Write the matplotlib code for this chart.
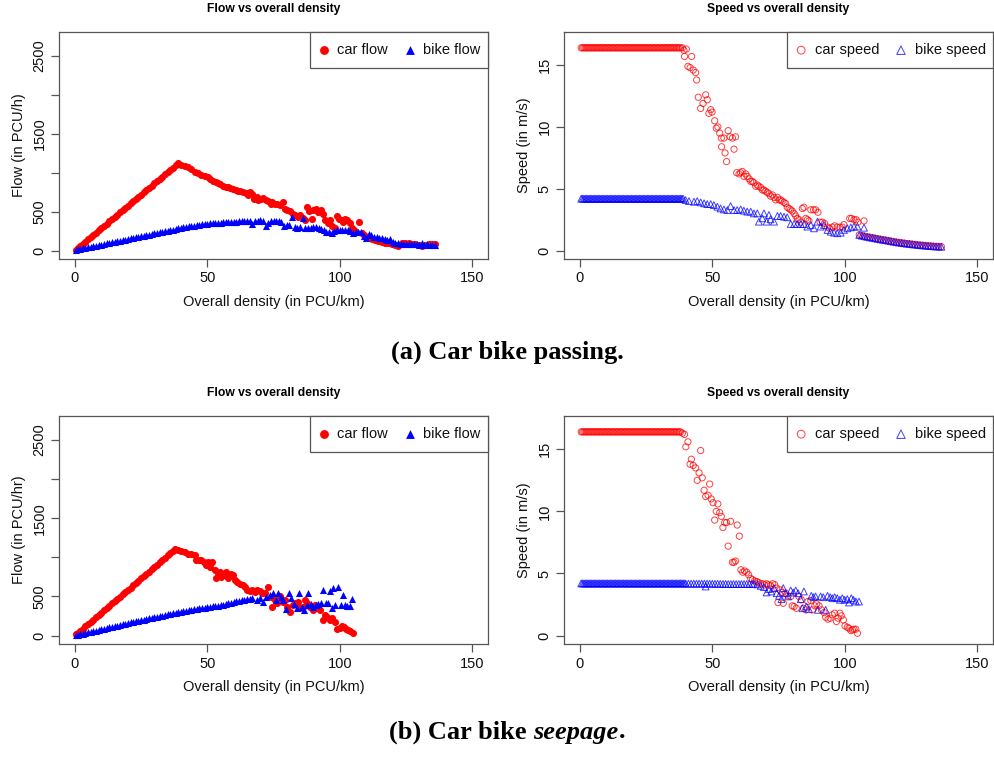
import matplotlib
matplotlib.use("Agg")
import matplotlib.pyplot as plt
from matplotlib.patches import Rectangle

plt.rcParams['font.family'] = ['Liberation Sans', 'DejaVu Sans']

# ---------------- (a) Car bike passing ----------------
car_flow_a_x = [0.5, 1, 2, 3, 4, 5, 6, 7, 8, 9, 10, 11, 12, 13, 14, 15, 16, 17, 18, 19, 20,
                21, 22, 23, 24, 25, 26, 27, 28, 29, 30, 31, 32, 33, 34, 35, 36, 37, 38, 39,
                40.2, 41.4, 42.7, 43.9, 45.2, 46.5, 47.7, 49.0, 50.3, 51.1, 52.1, 53.2, 54.0,
                54.9, 55.9, 56.9, 57.8, 58.7, 59.7, 60.7, 61.6, 62.5, 63.5, 64.5, 65.4, 66.0,
                66.7, 67.6, 68.6, 69.2, 70.1, 71.1, 72.0, 73.0, 73.9, 74.6, 75.5, 76.4, 77.4,
                78.4, 79.3, 80.2, 81.2, 82.2, 83.1, 84.1, 85.0, 86.0, 86.9, 87.8, 88.5, 89.4,
                90.0, 90.9, 91.9, 92.8, 93.8, 94.4, 95.7, 96.3, 97.2, 98.2, 98.9, 99.9, 100.8,
                101.4, 102.0, 102.9, 103.7, 104.5, 105.4, 106.2, 107.4, 108.3, 109.2, 110.2,
                111.2, 112.1, 113.4, 114.6, 115.9, 117.2, 118.4, 119.7, 121.0, 122.2, 123.5,
                124.7, 126.0, 127.3, 128.5, 129.8, 131.1, 132.3, 133.6, 134.8, 136.1]
car_flow_a_y = [14, 29, 58, 86, 115, 144, 173, 202, 230, 259, 288, 317, 346, 374, 403, 432, 461,
                490, 518, 547, 576, 605, 634, 662, 691, 720, 749, 778, 806, 835, 864, 893, 922,
                950, 979, 1008, 1037, 1066, 1094, 1123,
                1102, 1089, 1068, 1047, 1004, 991, 975, 962, 941, 919, 898, 877, 864, 856, 835,
                822, 814, 805, 792, 780, 771, 763, 750, 737, 720, 750, 729, 665, 686, 652, 665,
                678, 644, 631, 602, 623, 593, 602, 580, 623, 538, 525, 508, 475, 453, 432, 453,
                424, 390, 559, 508, 411, 525, 538, 496, 517, 475, 390, 356, 390, 314, 284, 441,
                411, 390, 369, 411, 390, 356, 284, 263, 242, 369, 229, 199, 169, 157, 144, 136,
                127, 114, 102, 93, 85, 72, 59, 93, 102, 93, 85, 85, 72, 59, 72, 80, 85, 80]

bike_flow_a_x = [0.5, 1, 2, 3, 4, 5, 6, 7, 8, 9, 10, 11, 12, 13, 14, 15, 16, 17, 18, 19, 20,
                 21, 22, 23, 24, 25, 26, 27, 28, 29, 30, 31, 32, 33, 34, 35, 36, 37, 38, 39,
                 40, 41, 42, 43, 44, 45, 46, 47, 48, 49, 50, 51, 52, 53, 54, 55, 56, 57, 58,
                 59, 60, 61, 62, 63, 64, 65, 66, 67, 68, 69, 70, 71, 72, 73, 74, 75, 76, 77,
                 78, 79, 80, 81, 82, 83, 84, 85, 86, 87, 88, 89, 90, 91, 92, 93, 94, 95, 96,
                 97, 98, 99, 100, 101, 102, 103, 104, 105, 106, 107, 108, 109, 110, 111, 112,
                 113, 114, 115, 116, 117, 118, 119, 120, 121, 122, 123, 124, 125, 126, 127,
                 128, 129, 130, 131, 132, 133, 134, 135, 136]
bike_flow_a_y = [10, 15, 22, 28, 36, 43, 50, 57, 64, 71, 78, 85, 92, 100, 107, 114, 121, 128,
                 135, 142, 150, 157, 164, 171, 178, 185, 192, 199, 206, 213, 220, 227, 234, 241,
                 248, 255, 262, 270, 278, 285, 292, 298, 305, 310, 316, 322, 328, 333, 338, 342,
                 346, 350, 352, 355, 357, 359, 361, 363, 365, 368, 370, 372, 374, 376, 378, 380,
                 382, 340, 384, 386, 388, 385, 316, 350, 380, 378, 376, 385, 372, 316, 335, 330,
                 435, 300, 290, 300, 414, 295, 290, 285, 300, 305, 290, 275, 262, 245, 235, 220,
                 250, 262, 268, 270, 265, 262, 255, 225, 245, 240, 238, 190, 165, 215, 195, 175,
                 170, 168, 160, 150, 135, 155, 110, 100, 95, 90, 88, 85, 82, 80, 82, 80, 78, 100,
                 78, 80, 76, 78, 72]

car_speed_a_x = [0.5, 1, 1.5, 2, 2.5, 3, 3.5, 4, 4.5, 5, 5.5, 6, 6.5, 7, 7.5, 8, 8.5, 9, 9.5,
                 10, 10.5, 11, 11.5, 12, 12.5, 13, 13.5, 14, 14.5, 15, 15.5, 16, 16.5, 17, 17.5,
                 18, 18.5, 19, 19.5, 20, 20.5, 21, 21.5, 22, 22.5, 23, 23.5, 24, 24.5, 25, 25.5,
                 26, 26.5, 27, 27.5, 28, 28.5, 29, 29.5, 30, 30.5, 31, 31.5, 32, 32.5, 33, 33.5,
                 34, 34.5, 35, 35.5, 36, 36.5, 37, 37.5, 38,
                 38.7, 39.3, 40.2, 39.5, 42.2, 40.8, 41.6, 42.8, 43.7, 44.1, 44.7, 45.6, 46.5,
                 47.5, 48.1, 48.7, 49.4, 49.9, 50.9, 51.5, 52.1, 52.8, 53.4, 53.5, 54.4, 54.8,
                 55.4, 56.0, 56.7, 57.6, 58.2, 58.8, 59.2, 60.1, 60.7, 61.3, 62.0, 62.6, 63.2,
                 63.9, 64.5, 65.1, 65.7, 66.4, 67.0, 67.6, 68.3, 68.9, 69.5, 70.2, 70.8, 71.4,
                 72.0, 72.7, 73.3, 73.9, 74.6, 75.2, 75.8, 76.4, 77.1, 77.7, 78.3, 79.0, 79.6,
                 80.2, 80.9, 81.5, 82.1, 82.7, 83.4, 84.0, 84.6, 85.3, 85.9, 86.5, 87.2, 88.2,
                 89.0, 89.9, 90.7, 91.6, 92.4, 93.5, 94.3, 95.3, 96.2, 97.2, 98.2, 99.1, 99.7,
                 101.9, 102.6, 103.5, 104.3, 105.0, 107.3,
                 105.5, 106.5, 107.5, 108.5, 109.5, 110.5, 111.5, 112.5, 113.5, 114.5, 115.5,
                 116.5, 117.5, 118.5, 119.5, 120.5, 121.5, 122.5, 123.5, 124.5, 125.5, 126.5,
                 127.5, 128.5, 129.5, 130.5, 131.5, 132.5, 133.5, 134.5, 135.5, 136.5]
car_speed_a_y = [16.4, 16.4, 16.4, 16.4, 16.4, 16.4, 16.4, 16.4, 16.4, 16.4, 16.4, 16.4, 16.4,
                 16.4, 16.4, 16.4, 16.4, 16.4, 16.4, 16.4, 16.4, 16.4, 16.4, 16.4, 16.4, 16.4,
                 16.4, 16.4, 16.4, 16.4, 16.4, 16.4, 16.4, 16.4, 16.4, 16.4, 16.4, 16.4, 16.4,
                 16.4, 16.4, 16.4, 16.4, 16.4, 16.4, 16.4, 16.4, 16.4, 16.4, 16.4, 16.4, 16.4,
                 16.4, 16.4, 16.4, 16.4, 16.4, 16.4, 16.4, 16.4, 16.4, 16.4, 16.4, 16.4, 16.4,
                 16.4, 16.4, 16.4, 16.4, 16.4, 16.4, 16.4, 16.4, 16.4, 16.4, 16.4,
                 16.4, 16.2, 16.3, 15.7, 15.7, 14.9, 14.8, 14.6, 14.4, 13.8, 12.4, 11.5,
                 11.9, 12.6, 12.2, 11.1, 11.4, 11.2, 10.5, 9.9, 10.0, 9.5, 9.1, 8.4, 9.1, 7.9,
                 7.2, 9.7, 9.2, 9.1, 8.2, 9.2, 6.3, 6.2, 6.3, 6.4, 6.0, 6.2, 6.0, 5.8, 5.6, 5.6,
                 5.5, 5.2, 5.3, 5.2, 5.1, 4.9, 4.9, 4.8, 4.7, 4.6, 4.4, 4.5, 4.3, 4.1, 4.3, 4.1,
                 4.1, 4.0, 3.9, 3.8, 3.5, 3.4, 3.3, 3.2, 3.0, 2.8, 2.6, 2.5, 2.3, 3.4, 3.5, 2.6,
                 2.5, 2.4, 3.3, 3.3, 3.3, 3.1, 2.3, 2.3, 2.2, 1.9, 1.8, 1.9, 2.0, 1.9, 1.9, 1.9,
                 2.1, 2.6, 2.6, 2.5, 2.5, 2.3, 2.4,
                 1.28, 1.22, 1.17, 1.12, 1.08, 1.04, 1.0, 0.96, 0.92, 0.88, 0.85, 0.81, 0.77,
                 0.73, 0.69, 0.66, 0.63, 0.6, 0.57, 0.55, 0.52, 0.5, 0.47, 0.45, 0.43, 0.41,
                 0.39, 0.37, 0.35, 0.34, 0.33, 0.32]

bike_speed_a_x = [0.5, 1, 1.5, 2, 2.5, 3, 3.5, 4, 4.5, 5, 5.5, 6, 6.5, 7, 7.5, 8, 8.5, 9, 9.5,
                  10, 10.5, 11, 11.5, 12, 12.5, 13, 13.5, 14, 14.5, 15, 15.5, 16, 16.5, 17, 17.5,
                  18, 18.5, 19, 19.5, 20, 20.5, 21, 21.5, 22, 22.5, 23, 23.5, 24, 24.5, 25, 25.5,
                  26, 26.5, 27, 27.5, 28, 28.5, 29, 29.5, 30, 30.5, 31, 31.5, 32, 32.5, 33, 33.5,
                  34, 34.5, 35, 35.5, 36, 36.5, 37, 37.5, 38, 38.5, 39,
                  39.9, 41.2, 43.1, 44.3, 45.6, 46.9, 48.1, 49.4, 50.6, 51.9, 53.1, 54.4, 55.7,
                  56.9, 58.2, 59.4, 60.7, 61.9, 63.2, 64.5, 65.7, 67.0, 67.6, 68.9, 69.5, 70.5,
                  71.4, 72.0, 73.3, 74.6, 75.8, 77.1, 78.3, 79.6, 80.9, 82.1, 83.4, 84.6, 85.9,
                  87.2, 88.4, 89.7, 90.9, 92.2, 93.5, 94.7, 96.0, 97.2, 98.5, 99.7, 101.0, 102.3,
                  103.5, 104.8, 107.3,
                  105.5, 106.5, 107.5, 108.5, 109.5, 110.5, 111.5, 112.5, 113.5, 114.5, 115.5,
                  116.5, 117.5, 118.5, 119.5, 120.5, 121.5, 122.5, 123.5, 124.5, 125.5, 126.5,
                  127.5, 128.5, 129.5, 130.5, 131.5, 132.5, 133.5, 134.5, 135.5, 136.5]
bike_speed_a_y = [4.2, 4.2, 4.2, 4.2, 4.2, 4.2, 4.2, 4.2, 4.2, 4.2, 4.2, 4.2, 4.2, 4.2, 4.2,
                  4.2, 4.2, 4.2, 4.2, 4.2, 4.2, 4.2, 4.2, 4.2, 4.2, 4.2, 4.2, 4.2, 4.2, 4.2, 4.2,
                  4.2, 4.2, 4.2, 4.2, 4.2, 4.2, 4.2, 4.2, 4.2, 4.2, 4.2, 4.2, 4.2, 4.2, 4.2, 4.2,
                  4.2, 4.2, 4.2, 4.2, 4.2, 4.2, 4.2, 4.2, 4.2, 4.2, 4.2, 4.2, 4.2, 4.2, 4.2, 4.2,
                  4.2, 4.2, 4.2, 4.2, 4.2, 4.2, 4.2, 4.2, 4.2, 4.2, 4.2, 4.2, 4.2, 4.2, 4.2,
                  4.09, 4.0, 3.95, 4.0, 3.9, 3.82, 3.76, 3.76, 3.68, 3.55, 3.41, 3.33, 3.28, 3.6,
                  3.28, 3.28, 3.33, 3.23, 3.15, 3.15, 3.01, 3.01, 2.34, 2.61, 3.01, 2.34, 2.88,
                  2.53, 2.34, 2.8, 2.8, 2.74, 2.69, 2.15, 2.15, 2.15, 2.15, 2.15, 1.94, 2.07, 1.8,
                  2.34, 1.94, 2.07, 1.67, 1.53, 1.45, 1.4, 1.45, 1.67, 1.8, 1.88, 1.94, 1.94, 1.85,
                  1.26, 1.2, 1.16, 1.11, 1.07, 1.03, 0.99, 0.95, 0.91, 0.87, 0.84, 0.8, 0.76,
                  0.72, 0.68, 0.65, 0.62, 0.59, 0.56, 0.54, 0.51, 0.49, 0.46, 0.44, 0.42, 0.4,
                  0.38, 0.36, 0.35, 0.33, 0.32, 0.31]

# ---------------- (b) Car bike seepage ----------------
car_flow_b_x = [0.5, 1, 2, 3, 4, 5, 6, 7, 8, 9, 10, 11, 12, 13, 14, 15, 16, 17, 18, 19, 20,
                21, 22, 23, 24, 25, 26, 27, 28, 29, 30, 31, 32, 33, 34, 35, 36, 37, 37.9,
                38.9, 40.2, 41.4, 42.7, 43.9, 45.2, 45.8, 46.8, 47.7, 48.6, 49.6, 50.3, 51.1,
                51.8, 52.8, 53.4, 54.0, 54.7, 55.3, 55.9, 56.6, 57.2, 57.8, 58.5, 59.1, 59.7,
                60.4, 61.2, 62.2, 63.3, 64.1, 65.0, 66.0, 67.0, 67.9, 68.8, 69.8, 70.8, 71.7,
                73.0, 73.9, 74.6, 75.5, 76.4, 77.4, 78.4, 79.3, 80.2, 81.2, 82.2, 83.1, 84.1,
                85.0, 86.0, 86.9, 87.8, 88.8, 89.8, 90.7, 91.5, 92.6, 93.6, 94.4, 95.3, 96.3,
                97.2, 98.2, 99.1, 100.1, 100.8, 101.6, 102.4, 103.3, 103.9, 104.9]
car_flow_b_y = [15, 29, 59, 88, 117, 146, 176, 205, 234, 263, 293, 322, 351, 380, 410, 439,
                468, 497, 527, 556, 585, 614, 644, 673, 702, 731, 761, 790, 819, 848, 878, 907,
                936, 965, 995, 1024, 1053, 1082, 1110,
                1089, 1080, 1068, 1047, 1038, 1025, 962, 970, 962, 941, 898, 941, 877, 941, 835,
                741, 801, 814, 750, 792, 771, 814, 741, 758, 792, 771, 716, 686, 665, 644, 623,
                589, 572, 580, 559, 580, 572, 547, 538, 623, 496, 369, 453, 411, 504, 432, 453,
                369, 305, 390, 419, 432, 347, 369, 453, 411, 369, 326, 390, 347, 326, 199, 263,
                242, 199, 220, 178, 80, 93, 123, 114, 80, 72, 64, 38]

bike_flow_b_x = [0.5, 1, 2, 3, 4, 5, 6, 7, 8, 9, 10, 11, 12, 13, 14, 15, 16, 17, 18, 19, 20,
                 21, 22, 23, 24, 25, 26, 27, 28, 29, 30, 31, 32, 33, 34, 35, 36, 37, 38, 39,
                 40, 41, 42, 43, 44, 45, 46, 47, 48, 49, 50, 51, 52, 53, 54, 55, 56, 57, 58,
                 59, 60, 61, 62, 63, 64, 65, 66, 67,
                 68.6, 69.8, 71.1, 72.3, 73.6, 74.9, 75.9, 76.8, 77.7, 78.7, 79.7, 80.7, 81.6,
                 82.7, 83.7, 84.7, 85.6, 86.5, 87.5, 88.1, 89.0, 90.0, 91.0, 91.9, 92.8, 93.8,
                 94.8, 95.7, 96.3, 97.2, 97.6, 98.2, 99.5, 100.4, 101.4, 102.0, 102.9, 103.7,
                 104.5]
bike_flow_b_y = [6, 10, 18, 25, 33, 40, 48, 55, 63, 72, 80, 88, 96, 104, 112, 120, 128, 136,
                 145, 152, 160, 168, 176, 184, 192, 198, 205, 212, 220, 228, 235, 242, 250, 256,
                 263, 270, 276, 283, 290, 297, 305, 312, 318, 325, 330, 336, 342, 348, 352, 357,
                 362, 367, 372, 378, 383, 389, 395, 402, 410, 420, 430, 438, 445, 452, 458, 465,
                 470, 475,
                 453, 475, 432, 496, 517, 538, 453, 538, 487, 453, 335, 538, 475, 403, 347, 538,
                 369, 326, 390, 538, 403, 369, 390, 403, 419, 580, 419, 419, 572, 347, 602, 390,
                 623, 390, 517, 390, 377, 377, 462]

car_speed_b_x = [0.5, 1, 1.5, 2, 2.5, 3, 3.5, 4, 4.5, 5, 5.5, 6, 6.5, 7, 7.5, 8, 8.5, 9, 9.5,
                 10, 10.5, 11, 11.5, 12, 12.5, 13, 13.5, 14, 14.5, 15, 15.5, 16, 16.5, 17, 17.5,
                 18, 18.5, 19, 19.5, 20, 20.5, 21, 21.5, 22, 22.5, 23, 23.5, 24, 24.5, 25, 25.5,
                 26, 26.5, 27, 27.5, 28, 28.5, 29, 29.5, 30, 30.5, 31, 31.5, 32, 32.5, 33, 33.5,
                 34, 34.5, 35, 35.5, 36, 36.5, 37, 37.5, 38,
                 38.7, 39.5, 40.0, 40.8, 41.6, 42.1, 42.8, 43.7, 44.3, 45.0, 45.6, 46.2, 46.9,
                 47.5, 48.4, 49.0, 49.6, 50.3, 50.9, 51.5, 52.1, 52.8, 53.4, 54.0, 54.7, 55.4,
                 56.0, 56.9, 57.6, 58.2, 58.8, 59.4, 60.2, 60.8, 61.5, 62.2, 63.0, 63.7, 64.5,
                 65.2, 66.0, 66.8, 67.5, 68.3, 69.0, 69.8, 70.5, 71.3, 72.0, 72.8, 73.6, 74.3,
                 74.8, 75.6, 76.4, 76.8, 77.7, 78.6, 79.6, 80.2, 80.9, 81.7, 82.7, 83.6, 84.4,
                 85.3, 86.1, 87.2, 87.8, 88.7, 89.4, 90.3, 91.2, 92.2, 92.8, 93.7, 94.5, 95.3,
                 96.2, 96.9, 97.5, 98.2, 98.7, 99.5, 100.1, 101.0, 101.6, 102.3, 102.9, 103.5,
                 104.2, 104.8]
car_speed_b_y = [16.4, 16.4, 16.4, 16.4, 16.4, 16.4, 16.4, 16.4, 16.4, 16.4, 16.4, 16.4, 16.4,
                 16.4, 16.4, 16.4, 16.4, 16.4, 16.4, 16.4, 16.4, 16.4, 16.4, 16.4, 16.4, 16.4,
                 16.4, 16.4, 16.4, 16.4, 16.4, 16.4, 16.4, 16.4, 16.4, 16.4, 16.4, 16.4, 16.4,
                 16.4, 16.4, 16.4, 16.4, 16.4, 16.4, 16.4, 16.4, 16.4, 16.4, 16.4, 16.4, 16.4,
                 16.4, 16.4, 16.4, 16.4, 16.4, 16.4, 16.4, 16.4, 16.4, 16.4, 16.4, 16.4, 16.4,
                 16.4, 16.4, 16.4, 16.4, 16.4, 16.4, 16.4, 16.4, 16.4, 16.4, 16.4,
                 16.3, 16.2, 15.2, 15.6, 13.8, 14.2, 13.7, 13.5, 12.5, 13.1, 14.9, 12.7, 11.7,
                 11.2, 11.3, 12.2, 11.0, 10.7, 9.3, 10.0, 10.6, 9.9, 9.6, 8.7, 9.1, 9.1, 7.2,
                 9.2, 5.9, 5.9, 6.0, 8.9, 8.0, 5.3, 5.1, 5.2, 5.1, 4.9, 4.6, 4.5, 4.4, 4.35,
                 4.27, 4.17, 4.17, 4.09, 4.17, 4.09, 4.0, 4.17, 4.09, 3.82, 2.66, 3.68, 3.47,
                 2.6, 3.41, 3.2, 3.15, 2.39, 2.34, 2.2, 3.15, 2.88, 2.2, 2.07, 2.74, 2.82, 2.07,
                 2.39, 2.55, 2.39, 2.07, 1.85, 1.48, 1.32, 1.4, 1.67, 1.8, 1.13, 1.4, 1.8, 1.59,
                 1.26, 0.78, 0.67, 0.59, 0.4, 0.46, 0.51, 0.51, 0.19]

bike_speed_b_x = [0.5, 1, 1.5, 2, 2.5, 3, 3.5, 4, 4.5, 5, 5.5, 6, 6.5, 7, 7.5, 8, 8.5, 9, 9.5,
                  10, 10.5, 11, 11.5, 12, 12.5, 13, 13.5, 14, 14.5, 15, 15.5, 16, 16.5, 17, 17.5,
                  18, 18.5, 19, 19.5, 20, 20.5, 21, 21.5, 22, 22.5, 23, 23.5, 24, 24.5, 25, 25.5,
                  26, 26.5, 27, 27.5, 28, 28.5, 29, 29.5, 30, 30.5, 31, 31.5, 32, 32.5, 33, 33.5,
                  34, 34.5, 35, 35.5, 36, 36.5, 37, 37.5, 38, 38.5, 39, 39.5,
                  40, 41, 42, 43, 44, 45, 46, 47, 47.5, 48, 49, 50, 51, 52, 53, 54, 55, 56, 57,
                  58, 59, 60, 61, 62, 63, 64, 65,
                  65.7, 67.0, 68.3, 69.5, 70.5, 71.4, 72.3, 73.3, 74.3, 75.2, 76.1, 76.8, 77.7,
                  78.6, 79.6, 80.6, 81.5, 82.4, 83.4, 84.0, 84.6, 85.6, 86.5, 87.4, 88.2, 89.0,
                  89.9, 90.9, 91.9, 92.8, 93.5, 94.5, 95.3, 96.2, 97.2, 98.2, 99.1, 100.0, 101.0,
                  101.6, 102.5, 103.3, 104.2, 105.4]
bike_speed_b_y = [4.2, 4.2, 4.2, 4.2, 4.2, 4.2, 4.2, 4.2, 4.2, 4.2, 4.2, 4.2, 4.2, 4.2, 4.2,
                  4.2, 4.2, 4.2, 4.2, 4.2, 4.2, 4.2, 4.2, 4.2, 4.2, 4.2, 4.2, 4.2, 4.2, 4.2, 4.2,
                  4.2, 4.2, 4.2, 4.2, 4.2, 4.2, 4.2, 4.2, 4.2, 4.2, 4.2, 4.2, 4.2, 4.2, 4.2, 4.2,
                  4.2, 4.2, 4.2, 4.2, 4.2, 4.2, 4.2, 4.2, 4.2, 4.2, 4.2, 4.2, 4.2, 4.2, 4.2, 4.2,
                  4.2, 4.2, 4.2, 4.2, 4.2, 4.2, 4.2, 4.2, 4.2, 4.2, 4.2, 4.2, 4.2, 4.2, 4.2, 4.2,
                  4.18, 4.18, 4.18, 4.18, 4.18, 4.18, 4.18, 4.18, 3.95, 4.18, 4.18, 4.17, 4.17,
                  4.17, 4.16, 4.16, 4.16, 4.15, 4.15, 4.15, 4.15, 4.15, 4.15, 4.15, 4.15, 4.15,
                  4.15,
                  4.17, 4.12, 4.0, 3.9, 3.47, 3.74, 3.55, 3.82, 3.41, 3.2, 2.93, 3.82, 3.41, 3.15,
                  3.63, 3.47, 3.63, 3.41, 2.93, 2.2, 3.55, 2.34, 2.12, 3.2, 3.09, 3.15, 2.07,
                  3.15, 3.09, 2.07, 3.2, 3.09, 3.01, 3.09, 3.01, 2.88, 3.01, 2.88, 2.93, 2.66,
                  3.01, 2.88, 2.74, 2.74]

flow_ticks = [0, 500, 1000, 1500, 2000, 2500]
flow_ticklabels = ['0', '500', '', '1500', '', '2500']
speed_ticks = [0, 5, 10, 15]
x_ticks = [0, 50, 100, 150]

RED = '#FF0000'
BLUE = '#0000FF'
BOX = '#555555'
FS = 10.5

W, H = 994, 758
fig = plt.figure(figsize=(W / 100, H / 100), dpi=100)
legends = []


def ax_at(left, top, right, bottom):
    return fig.add_axes([left / W, 1 - bottom / H, (right - left) / W, (bottom - top) / H])


def style(ax, title, ylabel, yticks, yticklabels, ylim):
    ax.set_xlim(-6, 156)
    ax.set_ylim(ylim)
    ax.set_xticks(x_ticks)
    ax.set_xticklabels([str(t) for t in x_ticks])
    ax.set_yticks(yticks)
    ax.set_yticklabels(yticklabels, rotation=90, va='center')
    for s in ax.spines.values():
        s.set_color(BOX)
        s.set_linewidth(0.9)
    ax.tick_params(direction='out', length=6, width=0.9, color=BOX, labelsize=FS,
                   labelcolor='#111111', pad=3)
    ax.set_title(title, fontsize=8.7, fontweight='bold', pad=14.5)
    ax.set_xlabel('Overall density (in PCU/km)', fontsize=FS, color='#111111', labelpad=7)
    ax.set_ylabel(ylabel, fontsize=FS, color='#111111', labelpad=5)


def legend(ax):
    leg = ax.legend(loc='upper right', ncol=2, frameon=False, bbox_to_anchor=(1, 1),
                    borderaxespad=0, fontsize=FS, handletextpad=0.61, columnspacing=1.16,
                    borderpad=0.5, handlelength=0.65, markerscale=1.25)
    for t in leg.get_texts():
        t.set_color('#111111')
    legends.append((ax, leg))


def flow_panel(ax, cx, cy, bx, by, title, ylabel):
    ax.scatter(cx, cy, s=26, c=RED, marker='o', linewidths=0, label='car flow')
    ax.scatter(bx, by, s=26, c=BLUE, marker='^', linewidths=0, label='bike flow')
    style(ax, title, ylabel, flow_ticks, flow_ticklabels, (-108, 2808))
    legend(ax)


def speed_panel(ax, cx, cy, bx, by, title):
    ax.scatter(cx, cy, s=20, facecolors='none', edgecolors=RED, marker='o', linewidths=0.7,
               alpha=0.75, label='car speed')
    ax.scatter(bx, by, s=24, facecolors='none', edgecolors=BLUE, marker='^', linewidths=0.7,
               alpha=0.75, label='bike speed')
    style(ax, title, 'Speed (in m/s)', speed_ticks, [str(t) for t in speed_ticks],
          (-0.68, 17.68))
    legend(ax)


ax1 = ax_at(59, 32, 488, 259)
flow_panel(ax1, car_flow_a_x, car_flow_a_y, bike_flow_a_x, bike_flow_a_y,
           'Flow vs overall density', 'Flow (in PCU/h)')
ax2 = ax_at(564, 32, 993, 259)
speed_panel(ax2, car_speed_a_x, car_speed_a_y, bike_speed_a_x, bike_speed_a_y,
            'Speed vs overall density')
ax3 = ax_at(59, 416, 488, 644)
flow_panel(ax3, car_flow_b_x, car_flow_b_y, bike_flow_b_x, bike_flow_b_y,
           'Flow vs overall density', 'Flow (in PCU/hr)')
ax4 = ax_at(564, 416, 993, 644)
speed_panel(ax4, car_speed_b_x, car_speed_b_y, bike_speed_b_x, bike_speed_b_y,
            'Speed vs overall density')

CAP = 19
cap_font = ['Liberation Serif', 'DejaVu Serif']
fig.text(507 / W, 1 - 352 / H, '(a) Car bike passing.', ha='center', va='center',
         fontsize=CAP, fontweight='bold', family=cap_font)
t1 = fig.text(0, 0, '(b) Car bike ', fontsize=CAP, fontweight='bold', family=cap_font)
t2 = fig.text(0, 0, 'seepage', fontsize=CAP, fontweight='bold', style='italic',
              family=cap_font)
t3 = fig.text(0, 0, '.', fontsize=CAP, fontweight='bold', family=cap_font)
fig.canvas.draw()
r = fig.canvas.get_renderer()
w1 = t1.get_window_extent(r).width
w2 = t2.get_window_extent(r).width
w3 = t3.get_window_extent(r).width
total = w1 + w2 + w3
x0 = 507 - total / 2
yb = 1 - 732 / H
for t, off in ((t1, 0), (t2, w1), (t3, w1 + w2)):
    t.set_position(((x0 + off) / W, yb))
    t.set_va('center')

# legend frames like R: box 36 px tall, text centred 18 px below the top edge
BOX_H = 36.0
for ax, leg in legends:
    abox = ax.get_window_extent(r)
    tb = leg.get_texts()[0].get_window_extent(r)
    tc = (tb.y0 + tb.y1) / 2
    want = abox.y1 - BOX_H / 2
    dy = (want - tc) / abox.height
    leg.set_bbox_to_anchor((1, 1 + dy), transform=ax.transAxes)
    fig.canvas.draw()
    lb = leg.get_window_extent(r)
    left_px = lb.x0 - 2.0
    rect = Rectangle(((left_px - abox.x0) / abox.width, 1 - BOX_H / abox.height),
                     (abox.x1 - left_px) / abox.width, BOX_H / abox.height,
                     transform=ax.transAxes, facecolor='white', edgecolor=BOX,
                     linewidth=0.9, zorder=4.5, clip_on=False)
    ax.add_patch(rect)

fig.savefig('out.png', dpi=100)
